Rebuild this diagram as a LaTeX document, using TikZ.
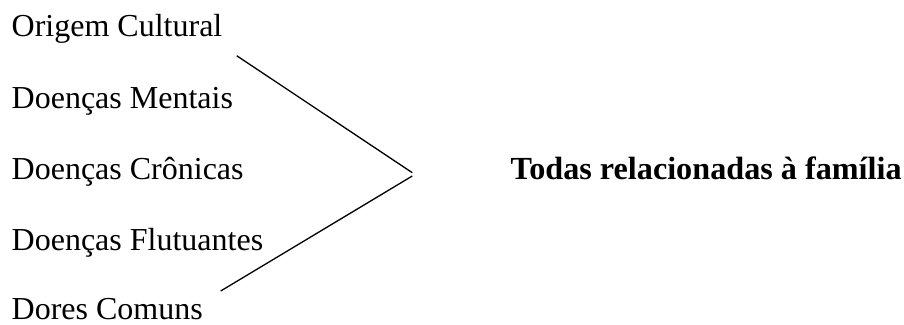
\documentclass[tikz,border=0pt]{standalone}
\usepackage{fontspec}
\setmainfont{Liberation Serif}
\begin{document}
\begin{tikzpicture}[x=1pt,y=-1pt,
  item/.style={anchor=base west,inner sep=0pt,font=\fontsize{32}{38}\selectfont},
  title/.style={anchor=base west,inner sep=0pt,font=\fontsize{32.2}{38}\selectfont\bfseries},
  link/.style={line width=1.3pt}]
\useasboundingbox (0,0) rectangle (904,324);
\node[item] (a) at (11.5,36.7) {Origem Cultural};
\node[item] (b) at (11.5,108.2) {Doenças Mentais};
\node[item] (c) at (11.5,179.3) {Doenças Crônicas};
\node[item] (d) at (11.5,250.5) {Doenças Flutuantes};
\node[item] (e) at (11.5,319.5) {Dores Comuns};
\node[title] (t) at (510.5,179.3) {Todas relacionadas à família};
\coordinate (s1) at (236.7,55.7);
\coordinate (m1) at (412.3,172.7);
\coordinate (s2) at (220.7,291);
\coordinate (m2) at (412.3,176);
\draw[link] (s1) -- (m1);
\draw[link] (s2) -- (m2);
\end{tikzpicture}
\end{document}
